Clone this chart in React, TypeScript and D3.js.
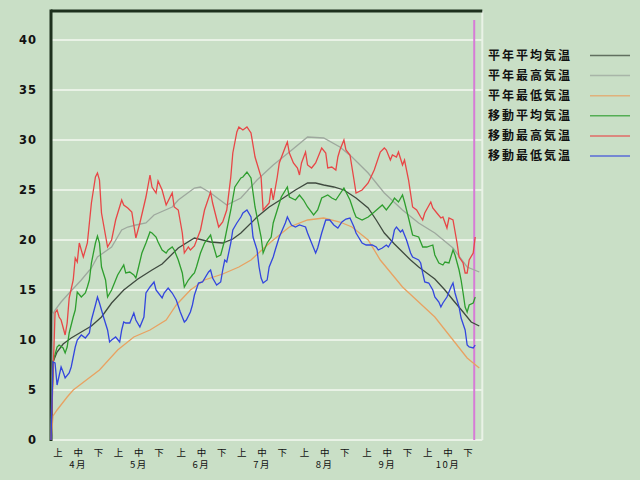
import React from 'react';
import * as d3 from 'd3';

const W = 640;
const H = 480;

const yTicks = [0, 5, 10, 15, 20, 25, 30, 35, 40];
const months = ['4月', '5月', '6月', '7月', '8月', '9月', '10月'];
const monthLengths = [30, 31, 30, 31, 31, 30, 31];
const dekadLabels = ['上', '中', '下'];

const seriesNames = ['平年平均気温', '平年最高気温', '平年最低気温', '移動平均気温', '移動最高気温', '移動最低気温'];
const seriesColors = ['#3f4a3f', '#9ea89e', '#e8a262', '#2e9e2e', '#e84646', '#3346de'];

// [day index from Mar 31, value °C]
const normAvg: [number, number][] = [
  [0, 0], [1, 7.8], [3, 8.8], [6, 9.6], [10, 10.2], [15, 10.8], [20, 11.4], [25, 12.3], [30, 13.7],
  [36, 15.0], [43, 16.1], [50, 17.0], [55, 17.6], [63, 19.2], [71, 20.2], [75, 20.0], [79, 19.8],
  [85, 19.7], [90, 20.1], [94, 20.7], [102, 22.3], [108, 23.3], [115, 24.2], [121, 25.0], [127, 25.7],
  [131, 25.7], [135, 25.5], [140, 25.3], [145, 25.0], [151, 24.2], [157, 23.2], [161, 22.0], [165, 20.7],
  [170, 19.6], [174, 18.8], [178, 18.0], [182, 17.3], [186, 16.7], [190, 16.1], [195, 15.0], [199, 14.0],
  [204, 12.8], [208, 11.8], [212, 11.4],
];

const normMax: [number, number][] = [
  [0, 0], [1, 12.6], [2, 13.0], [5, 13.8], [9, 14.7], [15, 16.0], [20, 17.2], [23, 18.3], [30, 19.3],
  [35, 21.0], [38, 21.3], [42, 21.5], [47, 21.7], [51, 22.5], [60, 23.3], [63, 24.0], [71, 25.2],
  [74, 25.3], [79, 24.7], [87, 23.5], [94, 24.2], [102, 26.0], [110, 27.5], [118, 28.8], [127, 30.3],
  [135, 30.2], [143, 29.3], [149, 28.3], [157, 26.7], [165, 24.7], [174, 23.0], [182, 21.7], [190, 20.7],
  [199, 19.2], [206, 17.3], [212, 16.8],
];

const normMin: [number, number][] = [
  [0, 0], [1, 2.4], [3, 3.0], [8, 4.3], [11, 5.0], [24, 7.0], [33, 9.0], [41, 10.3], [49, 11.0],
  [57, 12.0], [62, 13.5], [69, 15.0], [76, 16.0], [85, 16.6], [93, 17.3], [99, 18.0], [106, 19.3],
  [110, 20.0], [118, 21.3], [127, 22.0], [135, 22.2], [143, 21.8], [149, 21.3], [157, 20.0], [163, 18.0],
  [174, 15.3], [182, 13.8], [190, 12.3], [199, 10.0], [206, 8.2], [212, 7.2],
];

const moveAvg: [number, number][] = [
  [0, 0], [1, 7.8], [3, 9.3], [4, 9.5], [6, 9.2], [7, 8.7], [8, 9.3], [9, 10.7], [11, 12.3], [12, 13.0],
  [13, 14.8], [15, 14.3], [17, 14.7], [18, 15.3], [19, 16.0], [20, 17.7], [22, 19.7], [23, 20.4], [24, 19.7],
  [25, 17.3], [27, 16.0], [28, 14.3], [30, 15.0], [32, 16.0], [33, 16.5], [36, 17.5], [37, 16.7], [39, 16.8],
  [41, 16.5], [42, 16.2], [43, 17.0], [45, 18.7], [47, 19.7], [49, 20.8], [50, 20.7], [52, 20.3], [53, 19.8],
  [55, 19.0], [57, 18.7], [58, 19.0], [60, 19.3], [61, 19.0], [63, 18.0], [65, 16.7], [66, 15.3], [68, 16.0],
  [70, 16.5], [71, 16.7], [72, 17.3], [74, 18.7], [76, 19.7], [79, 20.5], [80, 19.7], [82, 18.3], [84, 18.5],
  [86, 20.0], [89, 23.0], [91, 25.3], [94, 26.2], [95, 26.3], [97, 26.8], [99, 26.2], [101, 23.3], [104, 20.3],
  [105, 18.7], [107, 19.7], [109, 20.3], [110, 21.7], [112, 23.0], [114, 24.3], [117, 25.3], [118, 24.3],
  [121, 24.0], [123, 24.5], [125, 24.0], [127, 23.3], [130, 22.5], [132, 23.0], [134, 24.2], [137, 24.5],
  [139, 24.2], [141, 24.0], [142, 24.3], [145, 25.2], [146, 24.8], [148, 24.0], [150, 22.8], [151, 22.3],
  [154, 22.0], [157, 22.3], [160, 22.8], [164, 23.5], [166, 23.0], [169, 23.8], [170, 24.2], [172, 23.8],
  [174, 24.5], [175, 23.8], [177, 22.2], [179, 20.5], [182, 20.3], [184, 19.3], [186, 19.3], [189, 19.5],
  [190, 18.5], [192, 17.7], [194, 17.5], [195, 17.8], [197, 17.7], [199, 19.0], [200, 18.5], [202, 17.0],
  [203, 16.0], [204, 14.7], [205, 13.3], [206, 12.8], [207, 13.5], [209, 13.7], [210, 14.3],
];

const moveMax: [number, number][] = [
  [0, 0], [2, 12.7], [3, 13.0], [4, 12.3], [5, 12.0], [7, 10.5], [8, 11.7], [9, 14.2], [11, 16.0], [12, 18.2],
  [13, 17.8], [14, 19.7], [16, 18.3], [18, 19.7], [20, 23.7], [22, 26.3], [23, 26.7], [24, 26.0], [25, 22.7],
  [28, 19.3], [30, 20.0], [32, 22.0], [35, 24.0], [36, 23.5], [38, 23.2], [40, 22.8], [42, 20.2], [44, 21.7],
  [47, 24.3], [49, 26.5], [50, 25.3], [52, 24.7], [53, 25.9], [55, 25.0], [57, 23.5], [60, 24.7], [61, 23.3],
  [63, 23.0], [65, 20.7], [66, 18.7], [68, 19.3], [69, 19.0], [71, 19.4], [74, 21.0], [76, 23.0], [79, 24.8],
  [80, 23.7], [83, 21.3], [85, 21.8], [87, 23.0], [89, 26.3], [90, 28.7], [92, 30.8], [93, 31.3], [95, 31.0],
  [97, 31.3], [99, 30.7], [101, 28.3], [104, 26.3], [105, 23.0], [108, 23.7], [109, 25.2], [110, 24.0],
  [112, 26.3], [113, 27.7], [116, 29.3], [117, 29.8], [118, 28.7], [120, 27.7], [122, 27.2], [123, 26.5],
  [124, 27.7], [126, 28.8], [127, 27.5], [129, 27.2], [131, 27.7], [134, 29.2], [136, 28.7], [137, 27.2],
  [139, 27.3], [141, 27.0], [142, 28.3], [143, 29.0], [145, 30.0], [146, 29.0], [148, 28.5], [150, 26.0],
  [151, 24.7], [154, 25.0], [157, 25.7], [160, 27.0], [163, 28.8], [165, 29.2], [166, 29.0], [168, 28.0],
  [169, 28.5], [171, 28.3], [172, 28.8], [174, 27.5], [175, 28.0], [177, 26.0], [179, 23.3], [181, 23.0],
  [183, 22.3], [184, 22.0], [185, 22.7], [188, 23.8], [189, 23.2], [191, 22.7], [193, 22.2], [194, 22.3],
  [196, 21.2], [197, 22.2], [199, 22.0], [201, 19.7], [202, 18.3], [204, 17.7], [205, 16.7], [206, 16.7],
  [207, 18.0], [209, 18.7], [210, 20.3],
];

const moveMin: [number, number][] = [
  [0, 0], [1, 7.8], [2, 7.7], [3, 5.5], [5, 7.3], [6, 6.8], [7, 6.2], [9, 6.7], [10, 7.3], [12, 9.3],
  [13, 10.0], [15, 10.5], [17, 10.2], [19, 10.7], [20, 12.0], [22, 13.5], [23, 14.3], [24, 13.7], [26, 12.3],
  [28, 11.0], [29, 9.8], [30, 10.0], [32, 10.3], [34, 9.8], [35, 11.0], [36, 11.8], [37, 11.7], [39, 11.7],
  [41, 12.7], [42, 12.0], [44, 11.3], [46, 12.3], [47, 14.7], [49, 15.3], [51, 15.8], [52, 15.0], [55, 14.2],
  [56, 14.7], [58, 15.2], [60, 14.7], [62, 14.0], [64, 12.8], [66, 11.8], [67, 12.0], [69, 12.8], [70, 13.5],
  [71, 14.5], [73, 15.7], [75, 15.8], [78, 16.8], [79, 17.0], [80, 16.2], [82, 15.5], [84, 15.8], [85, 17.0],
  [86, 18.0], [87, 17.8], [89, 19.7], [90, 21.0], [92, 21.7], [94, 22.3], [95, 22.7], [97, 23.0], [99, 22.3],
  [100, 20.3], [102, 19.0], [103, 17.3], [104, 16.2], [105, 15.7], [107, 16.0], [108, 17.3], [110, 18.3],
  [111, 19.0], [113, 20.3], [116, 21.7], [117, 22.3], [119, 21.5], [121, 21.3], [123, 21.5], [126, 21.3],
  [127, 20.7], [129, 19.7], [131, 18.7], [132, 19.2], [134, 20.7], [136, 22.0], [138, 22.0], [140, 21.5],
  [142, 21.2], [144, 21.8], [146, 22.1], [148, 22.2], [150, 21.3], [151, 20.7], [154, 19.7], [156, 19.5],
  [159, 19.5], [161, 19.3], [162, 19.0], [164, 19.2], [166, 19.5], [167, 19.3], [169, 20.0], [170, 21.0],
  [171, 21.3], [173, 20.8], [174, 21.0], [176, 20.0], [178, 18.7], [179, 18.3], [182, 18.0], [183, 17.7],
  [184, 16.7], [185, 15.8], [187, 15.7], [189, 15.0], [190, 14.3], [192, 13.8], [193, 13.3], [194, 13.7],
  [196, 14.3], [198, 15.3], [199, 15.7], [200, 14.7], [202, 13.3], [203, 12.2], [205, 11.0], [206, 9.5],
  [207, 9.3], [209, 9.2], [210, 9.5],
];

const allSeries = [normAvg, normMax, normMin, moveAvg, moveMax, moveMin];
const drawOrder = [1, 0, 2, 3, 4, 5];
const todayDay = 209.5;
const todayTop = 42;

export default function App() {
  const left = 51;
  const right = 482.3;
  const top = 11;
  const x = d3.scaleLinear().domain([0, 213.5]).range([left, right]);
  const y = d3.scaleLinear().domain([0, 40]).range([440, 40]);
  const line = d3.line<[number, number]>().x((d) => x(d[0])).y((d) => y(d[1]));

  const starts: number[] = [];
  let acc = 1;
  monthLengths.forEach((len) => {
    starts.push(acc);
    acc += len;
  });

  const font = "'Noto Sans CJK JP', 'DejaVu Sans', sans-serif";

  return (
    <svg width={W} height={H} style={{ position: 'absolute', left: 0, top: 0 }} xmlns="http://www.w3.org/2000/svg">
      <rect x={0} y={0} width={W} height={H} fill="#c9dfc6" />
      {yTicks.map((t) => (
        <line key={'g' + t} x1={left} x2={right} y1={y(t)} y2={y(t)} stroke="#e9f2e6" strokeWidth={2} />
      ))}
      <line x1={right} x2={right} y1={top} y2={y(0)} stroke="#e9f2e6" strokeWidth={2} />
      {yTicks.map((t) => (
        <text key={'t' + t} x={37} y={y(t)} dy="0.35em" textAnchor="end" fontSize={11.5} fontWeight="bold"
          fontFamily="'DejaVu Sans', sans-serif" letterSpacing={1} fill="#111">{t}</text>
      ))}
      {starts.map((s, mi) =>
        dekadLabels.map((lab, k) => (
          <text key={'d' + mi + k} x={x(s + k * 10) + 5} y={455.5} textAnchor="middle" fontSize={9.5}
            fontFamily={font} fill="#111">{lab}</text>
        ))
      )}
      {starts.map((s, mi) => (
        <text key={'m' + mi} x={x(s + 10) + 5} y={468} textAnchor="middle" fontSize={9.5}
          fontFamily={font} letterSpacing={1.5} fill="#111">{months[mi]}</text>
      ))}
      <line x1={left} x2={right} y1={top} y2={top} stroke="#1d301d" strokeWidth={3} />
      <line x1={left} x2={left} y1={top - 1.5} y2={y(0) + 1} stroke="#1d301d" strokeWidth={3} />
      <line x1={x(todayDay)} x2={x(todayDay)} y1={y(0)} y2={y(todayTop)} stroke="#d77bd6" strokeWidth={2} />
      {drawOrder.map((i) => (
        <path key={'s' + i} d={line(allSeries[i]) || ''} fill="none" stroke={seriesColors[i]} strokeWidth={1.3} />
      ))}
      {seriesNames.map((n, i) => (
        <g key={'l' + i}>
          <text x={488} y={55.5 + i * 20.1} dy="0.35em" fontSize={12} fontWeight="bold" fontFamily={font}
            letterSpacing={2} fill="#111">{n}</text>
          <line x1={590} x2={630} y1={55.5 + i * 20.1} y2={55.5 + i * 20.1} stroke={seriesColors[i]}
            strokeWidth={1.5} opacity={0.75} />
        </g>
      ))}
    </svg>
  );
}
